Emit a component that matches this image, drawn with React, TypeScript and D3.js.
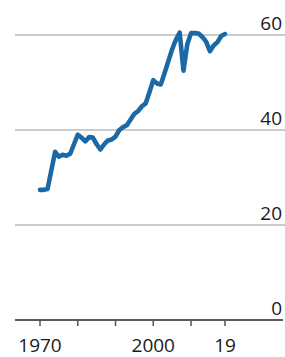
import React from 'react';
import * as d3 from 'd3';

const years = d3.range(1970, 2020);
const values = [
  27.4, 27.4, 27.6, 31.5, 35.4, 34.4, 34.8, 34.6, 35.0, 37.0,
  39.0, 38.4, 37.6, 38.5, 38.4, 37.0, 35.9, 37.0, 37.8, 38.0,
  38.6, 40.0, 40.6, 41.0, 42.2, 43.4, 44.0, 45.0, 45.6, 48.0,
  50.5, 49.8, 49.6, 52.0, 54.5, 57.0, 59.0, 60.5, 52.5, 58.0,
  60.4, 60.4, 60.3, 59.6, 58.6, 56.6, 57.8, 58.5, 59.8, 60.2,
];
const yTicks = [0, 20, 40, 60];
const xTicks = [1970, 1980, 1990, 2000, 2010, 2019];
const xLabels: Record<number, string> = { 1970: '1970', 2000: '2000', 2019: '19' };

const W = 285;
const H = 357;
const FONT = '"Open Sans", sans-serif';

export default function App() {
  const x = d3.scaleLinear().domain([1970, 2019]).range([40, 225]);
  const y = d3.scaleLinear().domain([0, 60]).range([320, 35]);
  const data = years.map((yr, i) => ({ yr, v: values[i] }));

  const line = d3
    .line<{ yr: number; v: number }>()
    .x((d) => x(d.yr))
    .y((d) => y(d.v));

  return (
    <svg width={W} height={H} style={{ position: 'absolute', left: 0, top: 0, background: '#fff' }}>
      {/* grid */}
      {yTicks.filter((t) => t > 0).map((t) => (
        <line key={t} x1={15} x2={W} y1={y(t)} y2={y(t)} stroke="#c9cdd0" strokeWidth={2} />
      ))}
      {yTicks.map((t) => (
        <text
          key={'l' + t}
          x={282}
          y={y(t) - 5}
          textAnchor="end"
          fontFamily={FONT}
          fontSize={19}
          fill="#1a1a1a"
        >
          {t}
        </text>
      ))}

      {/* series */}
      <path
        d={line(data) || ''}
        fill="none"
        stroke="#1a69a6"
        strokeWidth={4.6}
        strokeLinejoin="round"
        strokeLinecap="round"
      />

      {/* x axis */}
      <line x1={15} x2={283} y1={y(0)} y2={y(0)} stroke="#5a5a5a" strokeWidth={2} />
      {xTicks.map((t) => (
        <line key={'t' + t} x1={x(t)} x2={x(t)} y1={y(0)} y2={y(0) + 6} stroke="#555" strokeWidth={1.5} />
      ))}
      {xTicks.filter((t) => xLabels[t]).map((t) => (
        <text
          key={'x' + t}
          x={x(t)}
          y={352}
          textAnchor="middle"
          fontFamily={FONT}
          fontSize={19}
          fill="#1a1a1a"
        >
          {xLabels[t]}
        </text>
      ))}
    </svg>
  );
}
